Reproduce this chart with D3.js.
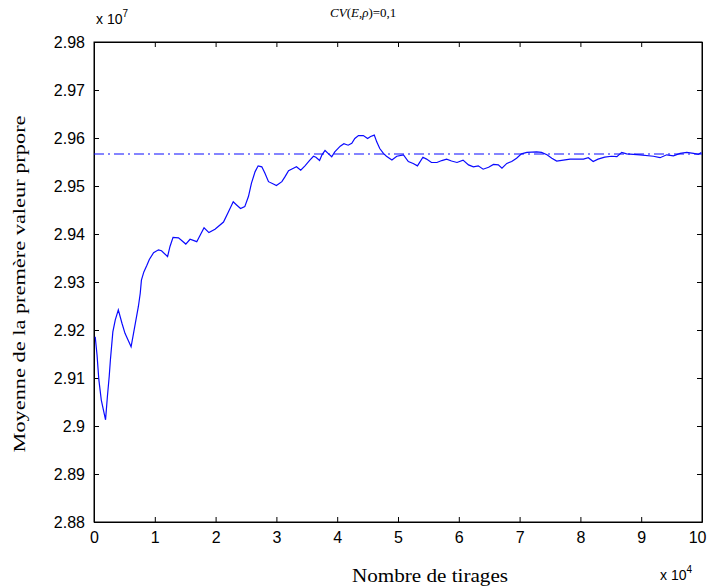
<!DOCTYPE html>
<html><head><meta charset="utf-8">
<script src="https://cdn.jsdelivr.net/npm/d3@7"></script>
<style>body{margin:0;background:#fff}</style>
</head><body>
<svg id="c" width="707" height="587"></svg>
<script>
// x in units of 10^4 draws, y in units of 10^7
const xs = [0.02,0.05,0.08,0.12,0.19,0.22,0.25,0.27,0.31,0.35,0.40,0.46,0.51,0.56,0.61,0.65,0.69,0.73,0.76,0.78,0.82,0.87,0.91,0.98,1.06,1.11,1.21,1.25,1.30,1.39,1.51,1.58,1.69,1.81,1.89,1.99,2.13,2.21,2.29,2.35,2.41,2.48,2.54,2.59,2.65,2.70,2.76,2.81,2.87,2.95,3.00,3.09,3.14,3.20,3.28,3.33,3.40,3.47,3.55,3.61,3.65,3.71,3.75,3.80,3.85,3.91,3.96,4.05,4.11,4.18,4.24,4.29,4.35,4.43,4.50,4.55,4.61,4.65,4.70,4.76,4.81,4.90,4.98,5.09,5.17,5.25,5.32,5.41,5.47,5.55,5.64,5.72,5.80,5.88,5.97,6.07,6.16,6.24,6.32,6.40,6.49,6.57,6.65,6.71,6.79,6.87,6.95,7.03,7.12,7.28,7.36,7.45,7.53,7.61,7.72,7.83,8.05,8.13,8.21,8.29,8.40,8.51,8.60,8.68,8.76,8.98,9.20,9.31,9.42,9.53,9.64,9.75,9.86,9.94,9.99];
const ys = [2.9186,2.9148,2.9096,2.9054,2.9013,2.9061,2.9103,2.9138,2.9196,2.9221,2.9242,2.9214,2.9193,2.9179,2.9165,2.9193,2.9221,2.9249,2.9276,2.9304,2.9321,2.9335,2.9347,2.9361,2.9367,2.9365,2.9353,2.9374,2.9393,2.9392,2.9379,2.9389,2.9384,2.9413,2.9403,2.9410,2.9425,2.9446,2.9467,2.9460,2.9453,2.9457,2.9478,2.9506,2.9530,2.9542,2.9540,2.9527,2.9509,2.9504,2.9501,2.9509,2.9519,2.9532,2.9537,2.9540,2.9533,2.9542,2.9554,2.9562,2.9560,2.9553,2.9565,2.9574,2.9568,2.9561,2.9571,2.9583,2.9588,2.9585,2.9589,2.9599,2.9605,2.9605,2.9599,2.9603,2.9606,2.9592,2.9578,2.9568,2.9562,2.9554,2.9562,2.9565,2.9551,2.9547,2.9542,2.9560,2.9556,2.9549,2.9549,2.9553,2.9556,2.9552,2.9549,2.9554,2.9544,2.9540,2.9542,2.9535,2.9539,2.9545,2.9544,2.9537,2.9547,2.9551,2.9558,2.9567,2.9570,2.9571,2.9570,2.9565,2.9558,2.9552,2.9554,2.9556,2.9556,2.9559,2.9551,2.9556,2.9560,2.9562,2.9561,2.9570,2.9567,2.9565,2.9562,2.9559,2.9565,2.9563,2.9568,2.9570,2.9568,2.9566,2.9570];
const meanValue = 2.95667;
const xTicks = [0,1,2,3,4,5,6,7,8,9,10];
const yTicks = [2.88,2.89,2.90,2.91,2.92,2.93,2.94,2.95,2.96,2.97,2.98];
const titleParts = ["CV","(","E",",","ρ",")=0,1"];
const xLabel = "Nombre de tirages";
const yLabel = "Moyenne de la premère valeur prpore";

const svg = d3.select("#c");
const L=94, R=702, T=42, B=522;
const x = d3.scaleLinear().domain([0,10]).range([L,R]);
const y = d3.scaleLinear().domain([2.88,2.98]).range([B,T]);
const font = "Arial, 'Liberation Sans', sans-serif";
const serif = "'Liberation Serif','Times New Roman',serif";

// axes with inward ticks
const gB = svg.append("g").attr("transform",`translate(0,${B})`)
  .call(d3.axisBottom(x).tickValues(xTicks).tickSizeInner(-5).tickSizeOuter(0).tickPadding(10).tickFormat(d=>d));
const gT = svg.append("g").attr("transform",`translate(0,${T})`)
  .call(d3.axisTop(x).tickValues(xTicks).tickSizeInner(-5).tickSizeOuter(0).tickFormat(""));
const gL = svg.append("g").attr("transform",`translate(${L},0)`)
  .call(d3.axisLeft(y).tickValues(yTicks).tickSizeInner(-5).tickSizeOuter(0).tickPadding(9).tickFormat(d=>String(+d.toFixed(2))));
const gR = svg.append("g").attr("transform",`translate(${R},0)`)
  .call(d3.axisRight(y).tickValues(yTicks).tickSizeInner(-5).tickSizeOuter(0).tickFormat(""));
[gB,gT,gL,gR].forEach(g=>{
  g.selectAll("path").attr("stroke","#000").attr("stroke-width",1);
  g.selectAll("line").attr("stroke","#000");
  g.selectAll("text").attr("fill","#000").style("font-family",font).style("font-size","16px");
});
gL.selectAll("text").attr("dy","0.35em");
gB.selectAll("text").attr("dy","0.7em");
// keep the last label inside the window edge
gB.selectAll(".tick").filter(d=>d===10).select("text").attr("text-anchor","end").attr("x",4);
svg.append("rect").attr("x",L).attr("y",T).attr("width",R-L).attr("height",B-T)
  .attr("fill","none").attr("stroke","#000").attr("stroke-width",1);

// data line
const data = xs.map((v,i)=>[v,ys[i]]);
svg.append("path").datum(data)
  .attr("d", d3.line().x(d=>x(d[0])).y(d=>y(d[1])))
  .attr("fill","none").attr("stroke","#0a0aff").attr("stroke-width",1.2);

// mean line
svg.append("line").attr("x1",x(0)).attr("x2",x(10)).attr("y1",y(meanValue)).attr("y2",y(meanValue))
  .attr("stroke","#0a0aff").attr("stroke-width",1.2).attr("stroke-dasharray","10,4,2,4");

// exponent labels
const e7 = svg.append("text").attr("x",96).attr("y",24).style("font-family",font).style("font-size","14px");
e7.append("tspan").text("x 10");
e7.append("tspan").attr("dy",-7).style("font-size","10px").text("7");
const e4 = svg.append("text").attr("x",660).attr("y",580).style("font-family",font).style("font-size","14px");
e4.append("tspan").text("x 10");
e4.append("tspan").attr("dy",-7).style("font-size","10px").text("4");

// title
const t = svg.append("text").attr("x",330).attr("y",17)
  .style("font-family",serif).style("font-size","13px");
titleParts.forEach((p,i)=>{
  t.append("tspan").text(p).style("font-style", (i===0||i===2||i===4)?"italic":"normal");
});

// axis labels
svg.append("text").attr("x",430).attr("y",582).attr("text-anchor","middle")
  .attr("textLength",156).attr("lengthAdjust","spacingAndGlyphs")
  .style("font-family",serif).style("font-size","18px").text(xLabel);
svg.append("text").attr("transform","translate(25,284) rotate(-90)").attr("text-anchor","middle")
  .attr("textLength",337).attr("lengthAdjust","spacingAndGlyphs")
  .style("font-family",serif).style("font-size","17px").text(yLabel);
</script>
</body></html>
